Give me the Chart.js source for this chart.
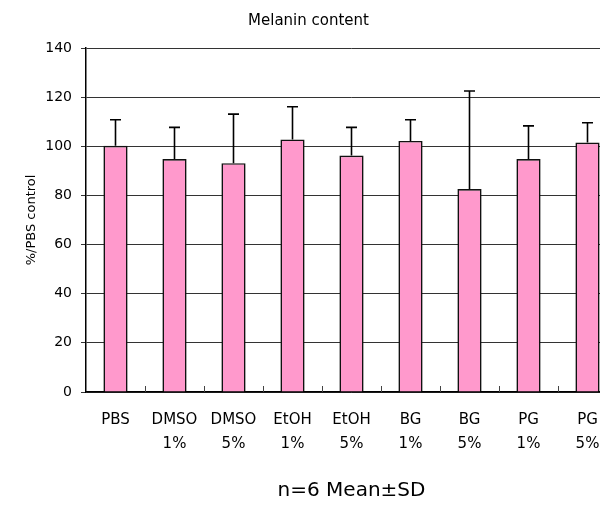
<!DOCTYPE html>
<html>
<head>
<meta charset="utf-8">
<script src="https://cdn.jsdelivr.net/npm/chart.js@4"></script>
<style>
  html, body { margin: 0; padding: 0; overflow: hidden; background: #fff; }
  #wrap { width: 630px; height: 506px; }
</style>
</head>
<body>
<div id="wrap"><canvas id="c" width="630" height="506"></canvas></div>
<script>
const categories = [['PBS'], ['DMSO', '1%'], ['DMSO', '5%'], ['EtOH', '1%'], ['EtOH', '5%'], ['BG', '1%'], ['BG', '5%'], ['PG', '1%'], ['PG', '5%']];
const means = [100.2, 94.8, 93.1, 102.8, 96.2, 102.2, 82.6, 94.8, 101.5];
const sds = [10.6, 12.9, 20.0, 13.3, 11.5, 8.6, 39.9, 13.5, 8.1];
const yTicks = [0, 20, 40, 60, 80, 100, 120, 140];

const FONT = '"DejaVu Sans", sans-serif';

const errorBars = {
  id: 'errorBars',
  afterDatasetsDraw(chart) {
    const ctx = chart.ctx;
    const meta = chart.getDatasetMeta(0);
    const y = chart.scales.y;
    const x = chart.scales.x;
    ctx.save();
    ctx.strokeStyle = '#000';
    ctx.lineWidth = 1.6;
    meta.data.forEach((bar, i) => {
      const top = y.getPixelForValue(means[i] + sds[i]);
      const base = y.getPixelForValue(means[i]);
      ctx.beginPath();
      ctx.moveTo(bar.x, base);
      ctx.lineTo(bar.x, top);
      ctx.moveTo(bar.x - 5.5, top);
      ctx.lineTo(bar.x + 5.5, top);
      ctx.stroke();
    });
    // inward category ticks on x axis
    ctx.strokeStyle = '#444';
    ctx.lineWidth = 1;
    const bottom = chart.chartArea.bottom;
    for (let i = 0; i < categories.length - 1; i++) {
      const px = Math.round((x.getPixelForTick(i) + x.getPixelForTick(i + 1)) / 2) + 0.5;
      ctx.beginPath();
      ctx.moveTo(px, bottom);
      ctx.lineTo(px, bottom - 6);
      ctx.stroke();
    }
    ctx.restore();
  }
};

new Chart(document.getElementById('c'), {
  type: 'bar',
  data: {
    labels: categories,
    datasets: [{
      data: means,
      backgroundColor: '#FF99CC',
      borderColor: '#111',
      borderWidth: 1.6,
      borderSkipped: 'bottom',
      barPercentage: 0.41,
      categoryPercentage: 1.0
    }]
  },
  options: {
    responsive: false,
    animation: false,
    devicePixelRatio: 1,
    layout: { padding: { left: 0, right: 13, top: 0, bottom: 0 } },
    plugins: {
      legend: { display: false },
      tooltip: { enabled: false },
      title: {
        display: true,
        text: 'Melanin content',
        color: '#000',
        font: { family: FONT, size: 15, weight: 'normal', lineHeight: 1.2 },
        padding: { top: 12, bottom: 18 }
      }
    },
    scales: {
      x: {
        grid: { display: false, drawTicks: false },
        border: { display: true, color: '#000', width: 1.5 },
        ticks: {
          color: '#000',
          font: { family: FONT, size: 15, lineHeight: 1.6 },
          padding: 16,
          maxRotation: 0,
          autoSkip: false
        },
        title: {
          display: true,
          text: 'n=6 Mean±SD',
          color: '#000',
          font: { family: FONT, size: 20, lineHeight: 1.2 },
          padding: { top: 0, bottom: 3 }
        },
        afterFit(scale) { scale.height = 114; }
      },
      y: {
        min: 0,
        max: 140,
        afterBuildTicks(scale) { scale.ticks = yTicks.map(v => ({ value: v })); },
        grid: { color: '#333', lineWidth: 1, drawTicks: true, tickLength: 5 },
        border: { display: true, color: '#000', width: 1.5 },
        ticks: {
          color: '#000',
          font: { family: FONT, size: 14 },
          padding: 9
        },
        title: {
          display: true,
          text: '%/PBS control',
          color: '#000',
          font: { family: FONT, size: 13, lineHeight: 1.2 },
          padding: { top: 24, bottom: 0 }
        },
        afterFit(scale) { scale.width = 86; }
      }
    }
  },
  plugins: [errorBars]
});
</script>
</body>
</html>
